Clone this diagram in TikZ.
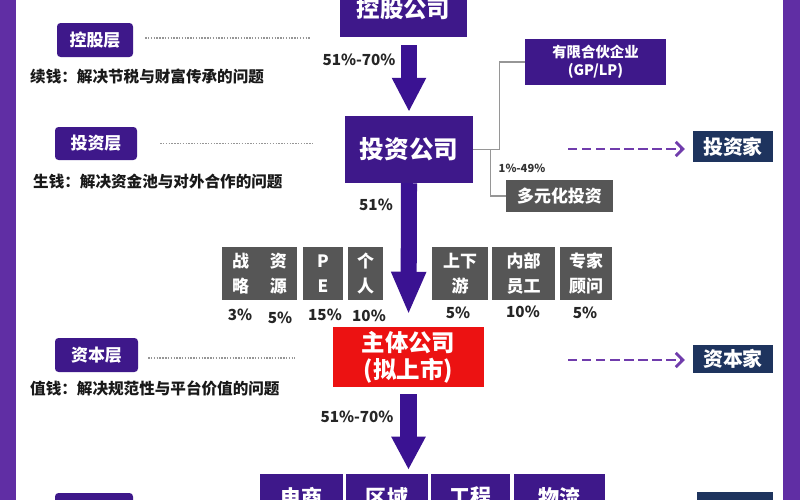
\documentclass[tikz,border=0pt]{standalone}
\usepackage{fontspec}
\setmainfont{Noto Sans CJK SC}
\usetikzlibrary{arrows.meta,calc}
\newlength\pxu
\setlength\pxu{0.03cm}
\definecolor{boxpurple}{RGB}{62,24,138}
\definecolor{barpurple}{RGB}{96,46,164}
\definecolor{arrowpurple}{RGB}{58,18,146}
\definecolor{dashpurple}{RGB}{112,60,172}
\definecolor{boxgray}{RGB}{86,86,86}
\definecolor{navy}{RGB}{30,52,94}
\definecolor{redbox}{RGB}{236,18,18}
\definecolor{linegray}{RGB}{150,150,150}
\tikzset{
  fs/.style={font=\fontsize{#1}{#1}\selectfont\bfseries},
  boxbase/.style={inner sep=0pt, text=white, align=center},
  pbox/.style={boxbase, fill=boxpurple},
  gbox/.style={boxbase, fill=boxgray},
  nbox/.style={boxbase, fill=navy},
  lbox/.style={boxbase, fill=boxpurple, rounded corners=3pt},
  pct/.style={inner sep=0pt, text=black!85, fs=13},
  desc/.style={inner sep=0pt, anchor=west, text=black!90, fs=13.3},
  bigarrow/.style={draw=arrowpurple, line width=13.7pt, -{Triangle[width=27.3pt,length=#1pt]}},
  conn/.style={draw=linegray, line width=1.1pt},
  dotline/.style={draw=linegray, line width=0.9pt, dash pattern=on 1.2pt off 1.2pt},
  dasharrow/.style={draw=dashpurple, line width=2.4pt, dash pattern=on 8pt off 4pt, -{Straight Barb[length=6pt,width=12pt,line width=2.4pt]}}
}
\begin{document}
\begin{tikzpicture}[x=0.03cm,y=-0.03cm]
\useasboundingbox (0,0) rectangle (800,500);
\clip (0,0) rectangle (800,500);
\fill[white] (0,0) rectangle (800,500);
\fill[barpurple] (0,0) rectangle (16,500);
\fill[barpurple] (783,0) rectangle (800,500);

% main column
\node[pbox, fs=20, minimum width=127\pxu, minimum height=57\pxu] (kggs) at (403.5,8.5) {控股公司};
\node[pbox, fs=21, minimum width=128\pxu, minimum height=67\pxu] (tzgs) at (409,149.5) {投资公司};
\node[boxbase, fill=redbox, minimum width=151\pxu, minimum height=60\pxu, font=\fontsize{20}{23}\selectfont\bfseries] (zt) at (408.5,357) {主体公司\\(拟上市)};

% right side
\node[pbox, minimum width=141\pxu, minimum height=46\pxu, font=\fontsize{12.3}{15}\selectfont\bfseries] (gp) at (595.5,62) {有限合伙企业\\(GP/LP)};
\node[gbox, fs=14.5, minimum width=107\pxu, minimum height=32\pxu] (dy) at (559.5,196) {多元化投资};
\node[nbox, fs=17, minimum width=80\pxu, minimum height=31\pxu] (tzj) at (733,146.5) {投资家};
\node[nbox, fs=17, minimum width=80\pxu, minimum height=28\pxu] (zbj) at (733,359) {资本家};
\node[nbox, minimum width=76\pxu, minimum height=38\pxu] (nb4) at (735,511) {};

% left labels
\node[lbox, fs=14.5, minimum width=76\pxu, minimum height=34\pxu] (kgc) at (95,40) {控股层};
\node[lbox, fs=14.5, minimum width=82\pxu, minimum height=33\pxu] (tzc) at (96,143.5) {投资层};
\node[lbox, fs=14.5, minimum width=83\pxu, minimum height=34\pxu] (zbc) at (96.5,355) {资本层};
\node[lbox, minimum width=78\pxu, minimum height=37\pxu] (lc4) at (94,511.5) {};

\node[desc] (d1) at (30,76) {续钱：解决节税与财富传承的问题};
\node[desc] (d2) at (33,182) {生钱：解决资金池与对外合作的问题};
\node[desc] (d3) at (30,388) {值钱：解决规范性与平台价值的问题};

\draw[dotline] ([xshift=12\pxu,yshift=2\pxu]kgc.east) -- ++(165,0);
\draw[dotline] ([xshift=23\pxu]tzc.east) -- ++(152,0);
\draw[dotline] ([xshift=10\pxu,yshift=-3\pxu]zbc.east) -- ++(147,0);

% shareholder boxes
\tikzset{sh/.style={gbox, minimum height=53\pxu, font=\fontsize{14.5}{21}\selectfont\bfseries}}
\node[sh, minimum width=75\pxu] (zl) at (259.5,273.5) {战\hspace{21\pxu}资\\略\hspace{21\pxu}源};
\node[sh, minimum width=40\pxu] (pe) at (323,273.5) {P\\E};
\node[sh, minimum width=35\pxu] (gr) at (365.5,273.5) {个\\人};
\node[sh, minimum width=56\pxu] (sxy) at (460,273.5) {上下\\游};
\node[sh, minimum width=63\pxu] (nbyg) at (523.5,273.5) {内部\\员工};
\node[sh, minimum width=52\pxu] (zjgw) at (586,273.5) {专家\\顾问};

\node[pct] (p1) at (240,315) {3\%};
\node[pct] (p2) at (280,318) {5\%};
\node[pct] (p3) at (325,315) {15\%};
\node[pct] (p4) at (369,316) {10\%};
\node[pct] (p5) at (458,313) {5\%};
\node[pct] (p6) at (523,312) {10\%};
\node[pct] (p7) at (585,313) {5\%};

% bottom boxes
\tikzset{bb/.style={pbox, fs=18, minimum height=46\pxu}}
\node[bb, minimum width=83\pxu] (ds) at (301.5,497) {电商};
\node[bb, minimum width=82\pxu] (qy) at (387,497) {区域};
\node[bb, minimum width=79\pxu] (gc) at (470.5,497) {工程};
\node[bb, minimum width=91\pxu] (wl) at (559.5,497) {物流};

% percentage labels
\node[pct] (l1) at (359,60) {51\%-70\%};
\node[pct] (l2) at (376,205) {51\%};
\node[pct] (l3) at (357,417) {51\%-70\%};
\node[inner sep=0pt, text=black!80, fs=9.5] (l4) at (522,168) {1\%-49\%};

% big arrows
\draw[bigarrow=29, shorten <=8\pxu, shorten >=4\pxu] (kggs.south -| tzgs.north) -- (tzgs.north);
\draw[bigarrow=36.7, shorten >=12\pxu] (tzgs.south) -- (zt.north);
\draw[bigarrow=28.2, shorten <=7\pxu, shorten >=4\pxu] (zt.south) -- (zt.south |- qy.north);

% connectors
\draw[conn] (tzgs.east) -- ++(26,0) |- (gp.west);
\draw[conn] ([xshift=17\pxu]tzgs.east) |- (dy.west);

% dashed arrows
\coordinate (ds1) at (568,149);
\coordinate (ds2) at (568,360);
\draw[dasharrow, shorten >=8\pxu] (ds1) -- (ds1 -| tzj.west);
\draw[dasharrow, shorten >=8\pxu] (ds2) -- (ds2 -| zbj.west);
\end{tikzpicture}
\end{document}
